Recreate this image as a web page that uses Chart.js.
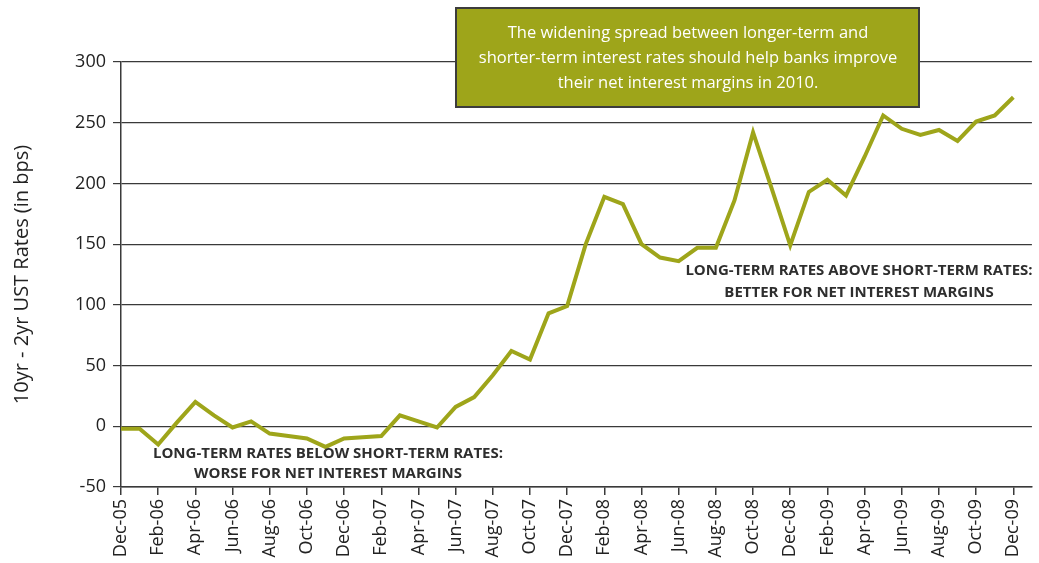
<!DOCTYPE html>
<html>
<head>
<meta charset="utf-8">
<title>10yr - 2yr UST Spread</title>
<script src="https://cdn.jsdelivr.net/npm/chart.js@4.4.1/dist/chart.umd.min.js"></script>
<style>
    body { margin: 0; background: #fff; }
    #spreadChart { display: block; }
</style>
</head>
<body>
<canvas id="spreadChart" width="1039" height="563"></canvas>
<script>
var Months = ['Dec-05', 'Jan-06', 'Feb-06', 'Mar-06', 'Apr-06', 'May-06', 'Jun-06', 'Jul-06', 'Aug-06', 'Sep-06', 'Oct-06', 'Nov-06',
    'Dec-06', 'Jan-07', 'Feb-07', 'Mar-07', 'Apr-07', 'May-07', 'Jun-07', 'Jul-07', 'Aug-07', 'Sep-07', 'Oct-07', 'Nov-07',
    'Dec-07', 'Jan-08', 'Feb-08', 'Mar-08', 'Apr-08', 'May-08', 'Jun-08', 'Jul-08', 'Aug-08', 'Sep-08', 'Oct-08', 'Nov-08',
    'Dec-08', 'Jan-09', 'Feb-09', 'Mar-09', 'Apr-09', 'May-09', 'Jun-09', 'Jul-09', 'Aug-09', 'Sep-09', 'Oct-09', 'Nov-09',
    'Dec-09'];
// 10yr minus 2yr treasury spread, basis points, month end
var SpreadBps = [-2, -2, -15, 3, 20, 9, -1, 4, -6, -8, -10, -17,
    -10, -9, -8, 9, 4, -1, 16, 24, 42, 62, 55, 93,
    99, 150, 189, 183, 150, 139, 136, 147, 147, 186, 242, 196,
    149, 193, 203, 190, 222, 256, 245, 240, 244, 235, 251, 256,
    271];
var YTicks = [-50, 0, 50, 100, 150, 200, 250, 300];

var CalloutText = ['The widening spread between longer-term and',
    'shorter-term interest rates should help banks improve',
    'their net interest margins in 2010.'];
var BelowNote = ['LONG-TERM RATES BELOW SHORT-TERM RATES:', 'WORSE FOR NET INTEREST MARGINS'];
var AboveNote = ['LONG-TERM RATES ABOVE SHORT-TERM RATES:', 'BETTER FOR NET INTEREST MARGINS'];

var OliveColor = '#9ea51a';
var AxisColor = '#3a3a3a';
var FontFamily = "'Open Sans', 'Noto Sans', sans-serif";

function BuildPoints() {
    var pts = [];
    for (var i = 0; i < SpreadBps.length; i++) {
        pts.push({ x: i, y: SpreadBps[i] });
    }
    return pts;
}

function DrawLines(ctx, lines, cx, y0, step) {
    for (var i = 0; i < lines.length; i++) {
        ctx.fillText(lines[i], cx, y0 + i * step);
    }
}

/* notes + callout box drawn on top of the plot */
var NotesPlugin = {
    id: 'notes',
    afterDatasetsDraw: function (chart) {
        var ctx = chart.ctx;
        ctx.save();
        ctx.textAlign = 'center';
        ctx.textBaseline = 'middle';

        ctx.fillStyle = '#2e2e2e';
        ctx.font = 'bold 15px ' + FontFamily;
        DrawLines(ctx, BelowNote, 328, 454, 20);
        DrawLines(ctx, AboveNote, 859, 271, 22);

        ctx.fillStyle = OliveColor;
        ctx.fillRect(456, 8, 463, 99);
        ctx.strokeStyle = '#3c3c3c';
        ctx.lineWidth = 2;
        ctx.strokeRect(456, 8, 463, 99);

        ctx.fillStyle = '#ffffff';
        ctx.font = '16.5px ' + FontFamily;
        DrawLines(ctx, CalloutText, 688, 33, 25);
        ctx.restore();
    }
};

function BindSpreadChart() {
    var canvas = document.getElementById('spreadChart');
    new Chart(canvas, {
        type: 'line',
        plugins: [NotesPlugin],
        data: {
            datasets: [
                {
                    data: BuildPoints(),
                    borderColor: OliveColor,
                    borderWidth: 4,
                    pointRadius: 0,
                    tension: 0,
                    borderJoinStyle: 'miter'
                }
            ]
        },
        options: {
            responsive: false,
            animation: false,
            devicePixelRatio: 1,
            layout: {
                padding: { top: 62, right: 4, left: 0, bottom: 0 }
            },
            plugins: {
                legend: { display: false },
                tooltip: { enabled: false },
                title: { display: false }
            },
            scales: {
                x: {
                    type: 'linear',
                    min: 0,
                    max: 49,
                    afterFit: function (scale) { scale.height = 76; },
                    afterBuildTicks: function (scale) {
                        var t = [];
                        for (var i = 0; i < Months.length; i += 2) t.push({ value: i });
                        scale.ticks = t;
                    },
                    ticks: {
                        autoSkip: false,
                        maxRotation: 90,
                        minRotation: 90,
                        padding: 4,
                        color: '#222',
                        font: { family: FontFamily, size: 18 },
                        callback: function (value) { return Months[value]; }
                    },
                    grid: {
                        drawOnChartArea: false,
                        tickLength: 8,
                        tickColor: AxisColor,
                        lineWidth: 1.5
                    },
                    border: { color: AxisColor, width: 1.5 }
                },
                y: {
                    min: -50,
                    max: 300,
                    afterFit: function (scale) { scale.width = 121; },
                    afterBuildTicks: function (scale) {
                        scale.ticks = YTicks.map(function (v) { return { value: v }; });
                    },
                    ticks: {
                        padding: 7,
                        color: '#222',
                        font: { family: FontFamily, size: 18 }
                    },
                    grid: {
                        color: AxisColor,
                        lineWidth: 1.2,
                        tickLength: 8
                    },
                    border: { color: AxisColor, width: 1.5 },
                    title: {
                        display: true,
                        text: '10yr - 2yr UST Rates (in bps)',
                        color: '#222',
                        font: { family: FontFamily, size: 20 },
                        padding: { top: 10, bottom: 0 }
                    }
                }
            }
        }
    });
}

BindSpreadChart();
</script>
</body>
</html>
